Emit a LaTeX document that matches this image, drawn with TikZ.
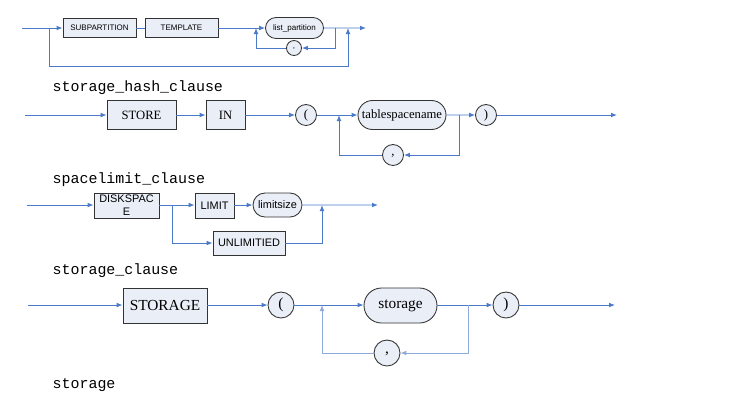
\documentclass[tikz,border=0pt]{standalone}
\usepackage{fontspec}
\setmainfont{Liberation Serif}
\setsansfont{Liberation Sans}
\setmonofont{Liberation Mono}
\usetikzlibrary{arrows.meta,shapes.misc}

\definecolor{flowblue}{HTML}{4A7AC8}
\definecolor{loopblue}{HTML}{8EA9DB}
\definecolor{boxfill}{HTML}{E9EEF7}

\tikzset{
  kw/.style={rectangle, draw=black!80, line width=0.65pt, fill=boxfill, inner sep=0pt, align=center},
  ident/.style={rounded rectangle, draw=black!80, line width=0.65pt, fill=boxfill, inner sep=0pt},
  sym/.style={circle, draw=black!80, line width=0.65pt, fill=boxfill, inner sep=0pt},
  flow/.style={draw=flowblue, line width=0.7pt},
  go/.style={flow, -{Latex[length=4.5pt,width=3.6pt]}},
  rulename/.style={anchor=base west, font=\ttfamily\fontsize{11.2}{12}\selectfont},
}

\begin{document}
\begin{tikzpicture}[x=0.75pt, y=-0.75pt]
    \useasboundingbox (0,0) rectangle (730,401);

    % subpartition template
    \coordinate (s1) at (22,28);
    \coordinate (e1) at (366,28);
    \coordinate (b1) at (49,28);
    \coordinate (b1d) at (49,66);
    \coordinate (j1) at (348,28);
    \coordinate (l1) at (256,28);
    \coordinate (r1) at (335,28);
    \begin{scope}[every node/.append style={font=\sffamily\fontsize{6}{7}\selectfont}]
    \node[kw, minimum width=54.75pt, minimum height=14.25pt] (sub) at (99.5,28) {SUBPARTITION};
    \node[kw, minimum width=54.75pt, minimum height=14.25pt] (tmpl) at (181.5,28) {TEMPLATE};
    \node[ident, minimum width=43.5pt, minimum height=15.75pt] (lp) at (294.5,28) {list\_partition};
    \node[sym, minimum size=11.25pt] (c1) at (294,48) {\raisebox{-1pt}{,}};
    \end{scope}
    \draw[go] (s1) -- (sub);
    \draw[flow] (sub) -- (tmpl);
    \draw[go] (tmpl) -- (lp);
    \draw[go] (lp) -- (e1);
    \draw[go] (r1) |- (c1.east);
    \draw[go] (c1.west) -| (l1);
    \draw[go] (b1) -- (b1d) -| (j1);

    % storage_hash_clause
    \node[rulename] (n2) at (48,91) {storage\_hash\_clause};
    \coordinate (s2) at (25,115);
    \coordinate (e2) at (617,115);
    \coordinate (l2) at (339,115);
    \coordinate (r2) at (459,115);
    \begin{scope}[every node/.append style={font=\fontsize{9.5}{11}\selectfont}]
    \node[kw, minimum width=51.75pt, minimum height=21.75pt] (store) at (141.5,115) {STORE};
    \node[kw, minimum width=29.25pt, minimum height=21.75pt] (in) at (225.5,115) {IN};
    \node[sym, minimum size=15.75pt] (lp2) at (306,115) {(};
    \node[ident, minimum width=66pt, minimum height=21.75pt] (tsn) at (402,115) {tablespacename};
    \node[sym, minimum size=15.75pt] (rp2) at (486,115) {)};
    \node[sym, minimum size=15.75pt] (c2) at (393,155) {\raisebox{-2pt}{,}};
    \end{scope}
    \draw[go] (s2) -- (store);
    \draw[go] (store) -- (in);
    \draw[go] (in) -- (lp2);
    \draw[go] (lp2) -- (tsn);
    \draw[go] (tsn) -- (rp2);
    \draw[go] (rp2) -- (e2);
    \draw[go] (r2) |- (c2.east);
    \draw[go] (c2.west) -| (l2);

    % spacelimit_clause
    \node[rulename] (n3) at (48,183) {spacelimit\_clause};
    \coordinate (s3) at (27,205);
    \coordinate (e3) at (378,205);
    \coordinate (b3) at (172,205);
    \coordinate (j3) at (322,205);
    \begin{scope}[every node/.append style={font=\sffamily\fontsize{8.2}{9.5}\selectfont}]
    \node[kw, minimum width=48.75pt, minimum height=18.75pt] (disk) at (126.5,205.5) {DISKSPAC\\E};
    \node[kw, minimum width=29.25pt, minimum height=18.75pt] (limit) at (214.5,205.5) {LIMIT};
    \node[ident, minimum width=36.75pt, minimum height=18pt] (lsize) at (277.5,205) {limitsize};
    \node[kw, minimum width=54pt, minimum height=18pt] (unlim) at (249,243) {UNLIMITIED};
    \end{scope}
    \draw[go] (s3) -- (disk.west |- s3);
    \draw[go] (disk.east |- s3) -- (limit.west |- s3);
    \draw[go] (limit.east |- s3) -- (lsize);
    \draw[go] (lsize) -- (e3);
    \draw[go] (b3) |- (unlim.west);
    \draw[go] (unlim.east) -| (j3);

    % storage_clause
    \node[rulename] (n4) at (48,274) {storage\_clause};
    \coordinate (s4) at (28,305);
    \coordinate (e4) at (615,305);
    \coordinate (l4) at (322,305);
    \coordinate (r4) at (468,305);
    \begin{scope}[every node/.append style={font=\fontsize{11.5}{13}\selectfont}]
    \node[kw, minimum width=63pt, minimum height=26.25pt] (stor) at (165,305.5) {STORAGE};
    \node[sym, minimum size=19.5pt] (lp4) at (281,305) {(};
    \node[ident, minimum width=54.75pt, minimum height=26.25pt] (st) at (400.5,305.5) {storage};
    \node[sym, minimum size=19.5pt] (rp4) at (506,305) {)};
    \node[sym, minimum size=19.5pt] (c4) at (387,353) {\raisebox{-2pt}{,}};
    \end{scope}
    \draw[go] (s4) -- (stor.west |- s4);
    \draw[go] (stor.east |- s4) -- (lp4);
    \draw[go] (lp4) -- (st.west |- s4);
    \draw[go] (st.east |- s4) -- (rp4);
    \draw[go] (rp4) -- (e4);
    \draw[go, draw=loopblue] (r4) |- (c4.east);
    \draw[go, draw=loopblue] (c4.west) -| (l4);

    % storage
    \node[rulename] (n5) at (48,388) {storage};
\end{tikzpicture}
\end{document}
